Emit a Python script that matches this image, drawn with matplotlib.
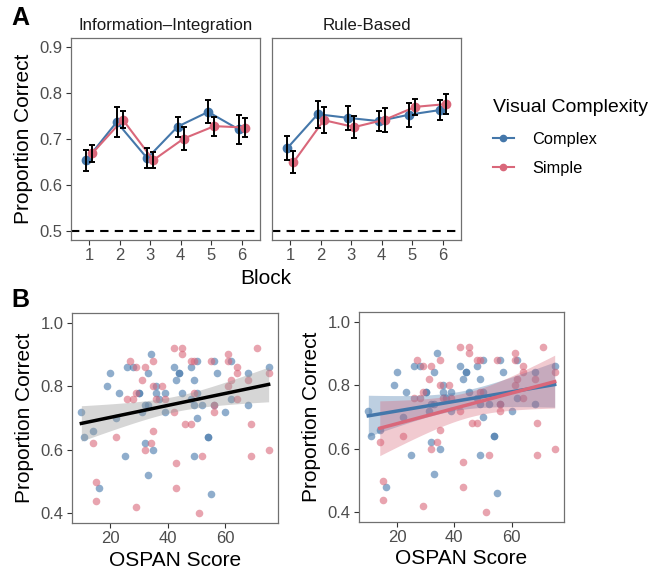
import numpy as np
import matplotlib
matplotlib.use('Agg')
import matplotlib.pyplot as plt
from matplotlib.lines import Line2D

plt.rcParams['font.family'] = ['Liberation Sans', 'DejaVu Sans']

## colours
BLUE = '#4477AA'
RED = '#D9677A'

## panel A data: mean proportion correct per block, and error bar half-widths
blocks = [1, 2, 3, 4, 5, 6]
ii_complex = [0.654, 0.737, 0.658, 0.727, 0.759, 0.721]
ii_complex_err = [0.023, 0.032, 0.022, 0.022, 0.025, 0.032]
ii_simple = [0.669, 0.742, 0.654, 0.701, 0.728, 0.725]
ii_simple_err = [0.019, 0.018, 0.018, 0.025, 0.021, 0.020]
rb_complex = [0.680, 0.754, 0.746, 0.739, 0.753, 0.763]
rb_complex_err = [0.026, 0.029, 0.026, 0.022, 0.026, 0.022]
rb_simple = [0.649, 0.741, 0.726, 0.742, 0.770, 0.776]
rb_simple_err = [0.024, 0.028, 0.024, 0.026, 0.018, 0.022]

## panel B data: OSPAN score vs proportion correct per participant
ospan_complex = [34, 26, 28, 42, 48, 50, 56, 62, 20, 33, 44, 44, 57, 68, 75, 43, 49,
                 19, 36, 23, 30, 30, 39, 45, 50, 36, 37, 48, 62, 32, 33, 49, 52, 56,
                 68, 10, 31, 39, 60, 22, 50, 14, 11, 54, 54, 32, 35, 25, 49, 33, 16, 55]
acc_complex = [0.90, 0.86, 0.86, 0.86, 0.86, 0.88, 0.88, 0.88, 0.84, 0.84, 0.84, 0.84, 0.84, 0.84, 0.86, 0.82, 0.82,
               0.80, 0.80, 0.78, 0.78, 0.78, 0.78, 0.78, 0.78, 0.78, 0.76, 0.76, 0.76, 0.74, 0.74, 0.74, 0.74, 0.74,
               0.74, 0.72, 0.72, 0.72, 0.72, 0.70, 0.70, 0.66, 0.64, 0.64, 0.64, 0.62, 0.60, 0.58, 0.58, 0.52, 0.48, 0.46]
ospan_simple = [42, 45, 71, 45, 61, 27, 35, 48, 49, 55, 61, 29, 32, 64, 64, 75, 31, 62,
                68, 35, 38, 61, 29, 49, 26, 28, 36, 39, 64, 56, 42, 56, 46, 48, 69, 35,
                22, 14, 34, 32, 75, 52, 69, 43, 15, 43, 15, 29, 51]
acc_simple = [0.92, 0.92, 0.92, 0.90, 0.90, 0.88, 0.88, 0.88, 0.88, 0.88, 0.88, 0.86, 0.86, 0.86, 0.84, 0.84, 0.82, 0.82,
              0.82, 0.80, 0.80, 0.80, 0.78, 0.78, 0.76, 0.76, 0.76, 0.76, 0.76, 0.74, 0.72, 0.72, 0.68, 0.68, 0.68, 0.66,
              0.64, 0.62, 0.62, 0.60, 0.60, 0.58, 0.58, 0.56, 0.50, 0.48, 0.44, 0.42, 0.40]

TICK_COL = '#4D4D4D'
BORDER_COL = '#707070'


def style_axes(ax):
    for s in ax.spines.values():
        s.set_color(BORDER_COL)
        s.set_linewidth(0.9)
    ax.tick_params(colors='#333333', labelcolor=TICK_COL, labelsize=12, length=3.5, width=0.8, pad=2.5)


def fit_band(x, y, t=2.01):
    x = np.asarray(x, float)
    y = np.asarray(y, float)
    b, a = np.polyfit(x, y, 1)
    n = len(x)
    resid = y - (a + b * x)
    s = np.sqrt(np.sum(resid ** 2) / (n - 2))
    sxx = np.sum((x - x.mean()) ** 2)
    xs = np.linspace(x.min(), x.max(), 80)
    yhat = a + b * xs
    se = s * np.sqrt(1 / n + (xs - x.mean()) ** 2 / sxx)
    return xs, yhat, yhat - t * se, yhat + t * se


fig = plt.figure(figsize=(6.55, 5.73), dpi=100)
W, H = 655, 573


def add_ax(x0, y0, x1, y1):
    return fig.add_axes([x0 / W, 1 - y1 / H, (x1 - x0) / W, (y1 - y0) / H])


## panel A
axA1 = add_ax(71, 38, 260, 240)
axA2 = add_ax(272, 38, 461, 240)
dodge = 0.1
bx = np.array(blocks)
for ax, title, cm, ce, sm, se in [
        (axA1, 'Information–Integration', ii_complex, ii_complex_err, ii_simple, ii_simple_err),
        (axA2, 'Rule-Based', rb_complex, rb_complex_err, rb_simple, rb_simple_err)]:
    ax.axhline(0.5, color='black', ls=(0, (4, 3)), lw=1.5)
    ax.plot(bx - dodge, cm, '-o', color=BLUE, lw=1.5, ms=6)
    ax.plot(bx + dodge, sm, '-o', color=RED, lw=1.5, ms=6)
    ax.errorbar(bx - dodge, cm, yerr=ce, fmt='none', ecolor='black', elinewidth=1.4, capsize=2.5, capthick=1.4)
    ax.errorbar(bx + dodge, sm, yerr=se, fmt='none', ecolor='black', elinewidth=1.4, capsize=2.5, capthick=1.4)
    ax.set_xlim(0.4, 6.6)
    ax.set_ylim(0.48, 0.92)
    ax.set_xticks(blocks)
    ax.set_yticks([0.5, 0.6, 0.7, 0.8, 0.9])
    ax.set_title(title, fontsize=12.2, color='#1a1a1a', pad=6)
    style_axes(ax)
axA2.set_yticklabels([])
axA2.tick_params(axis='y', length=0)
axA1.set_ylabel('Proportion Correct', fontsize=15, labelpad=5)
fig.text(266 / W, 1 - 278 / H, 'Block', ha='center', va='center', fontsize=15)

handles = [Line2D([], [], color=BLUE, marker='o', lw=1.5, ms=4.5),
           Line2D([], [], color=RED, marker='o', lw=1.5, ms=4.5)]
leg = fig.legend(handles, ['Complex', 'Simple'], title='Visual Complexity',
                 loc='upper left', bbox_to_anchor=(486 / W, 1 - 92 / H), frameon=False,
                 fontsize=11.8, title_fontsize=14, handlelength=1.3, labelspacing=0.85,
                 borderaxespad=0, handletextpad=1.1)
leg._legend_box.align = 'left'
leg._legend_box.sep = 12

## panel B
axB1 = add_ax(72, 313, 278, 523)
axB2 = add_ax(359, 312, 564, 522)
for ax in (axB1, axB2):
    ax.scatter(ospan_complex, acc_complex, s=30, color=BLUE, alpha=0.6, lw=0)
    ax.scatter(ospan_simple, acc_simple, s=30, color=RED, alpha=0.6, lw=0)

xs, yh, lo, hi = fit_band(ospan_complex + ospan_simple, acc_complex + acc_simple)
axB1.fill_between(xs, lo, hi, color='#999999', alpha=0.4, lw=0)
axB1.plot(xs, yh, color='black', lw=2.5)

xs, yh, lo, hi = fit_band(ospan_complex, acc_complex)
axB2.fill_between(xs, lo, hi, color=BLUE, alpha=0.35, lw=0)
axB2.plot(xs, yh, color=BLUE, lw=2.5)
xs, yh, lo, hi = fit_band(ospan_simple, acc_simple)
axB2.fill_between(xs, lo, hi, color=RED, alpha=0.35, lw=0)
axB2.plot(xs, yh, color=RED, lw=2.5)

for ax in (axB1, axB2):
    ax.set_xlim(6.75, 78.25)
    ax.set_ylim(0.37, 1.03)
    ax.set_xticks([20, 40, 60])
    ax.set_yticks([0.4, 0.6, 0.8, 1.0])
    ax.set_xlabel('OSPAN Score', fontsize=15, labelpad=3)
    ax.set_ylabel('Proportion Correct', fontsize=15, labelpad=5)
    style_axes(ax)

fig.text(11 / W, 1 - 18 / H, 'A', ha='left', va='center', fontsize=18, fontweight='bold')
fig.text(11 / W, 1 - 300 / H, 'B', ha='left', va='center', fontsize=18, fontweight='bold')

fig.savefig('out.png', dpi=100)
